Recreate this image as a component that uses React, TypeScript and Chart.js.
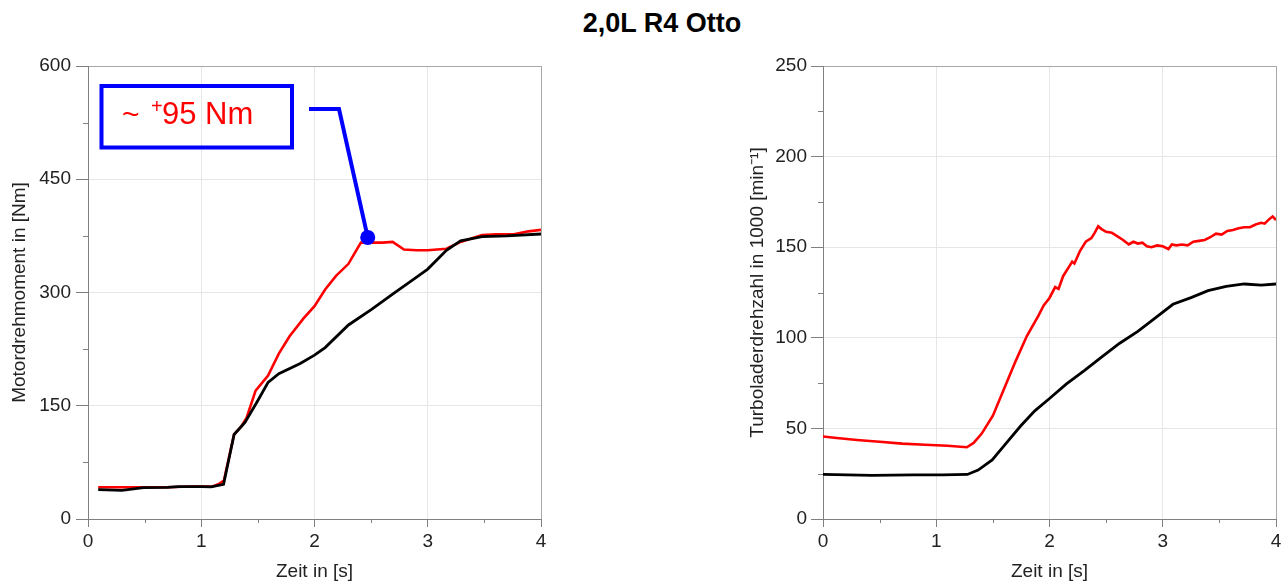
import React, { useEffect, useRef } from "react";
import { Chart, registerables } from "chart.js";

Chart.register(...registerables);

const TITLE = "2,0L R4 Otto";
const X_TITLE = "Zeit in [s]";
const TORQUE_TITLE = "Motordrehmoment in [Nm]";
const TURBO_TITLE = "Turboladerdrehzahl in 1000 [min\u207B\u00B9]";
const ANNOTATION_TEXT = "95 Nm";

const X_MINOR = [0.5, 1.5, 2.5, 3.5];
const TORQUE_MINOR = [75, 225, 375, 525];
const TURBO_MINOR = [25, 75, 125, 175, 225];

// annotation point (data coordinates)
const ANNO_T = 2.47;
const ANNO_V = 373;

// Left: Motordrehmoment
const torqueRedT = [0.09, 0.3, 0.5, 0.7, 0.9, 1.1, 1.15, 1.2, 1.29, 1.35, 1.4, 1.48, 1.59, 1.685, 1.78, 1.905, 2.0, 2.094, 2.19, 2.3, 2.378, 2.41, 2.5, 2.6, 2.69, 2.79, 2.9, 3.0, 3.165, 3.29, 3.48, 3.6, 3.76, 3.89, 4.0];
const torqueRedV = [42, 42, 42, 42, 43, 43, 46, 51, 112, 122, 134, 170, 190, 219, 242, 266, 282, 304, 322, 338, 358, 366, 366, 366, 367, 357, 356, 356, 358, 367, 376, 377, 377, 381, 383];
const torqueBlackT = [0.09, 0.3, 0.49, 0.7, 0.8, 1.0, 1.087, 1.197, 1.29, 1.386, 1.5, 1.59, 1.685, 1.874, 2.0, 2.094, 2.3, 2.504, 2.69, 2.88, 3.0, 3.165, 3.29, 3.48, 3.7, 4.0];
const torqueBlackV = [39, 38, 41.6, 42, 43, 43, 42.5, 46, 112, 128, 157, 181, 192.5, 206, 217, 227, 257, 277.6, 298, 318, 331, 356, 368.5, 374, 375, 377.5];

// Right: Turboladerdrehzahl
const turboRedT = [0, 0.1, 0.3, 0.5, 0.7, 0.9, 1.1, 1.27, 1.33, 1.4, 1.5, 1.6, 1.7, 1.8, 1.9, 1.95, 2.0, 2.05, 2.08, 2.12, 2.18, 2.2, 2.22, 2.27, 2.32, 2.37, 2.4, 2.43, 2.46, 2.5, 2.55, 2.6, 2.65, 2.7, 2.74, 2.78, 2.82, 2.86, 2.9, 2.95, 3.0, 3.05, 3.08, 3.12, 3.17, 3.22, 3.27, 3.32, 3.37, 3.42, 3.47, 3.52, 3.57, 3.62, 3.67, 3.72, 3.77, 3.82, 3.87, 3.9, 3.94, 3.97, 4.0];
const turboRedV = [45.5, 44.8, 43.6, 42.6, 41.6, 41.0, 40.4, 39.6, 42, 47, 57, 72, 87, 101, 112, 118, 122, 128, 127, 134, 140, 142, 141, 148, 153, 155, 158, 161.5, 160, 158.5, 158, 156, 154, 151.5, 153, 152, 152.5, 150.5, 150, 151, 150.5, 149, 151.5, 151, 151.5, 151, 153, 153.5, 154, 155.5, 157.5, 157, 159, 159.5, 160.5, 161, 161, 162.5, 163.5, 163, 165.5, 167, 165];
const turboBlackT = [0, 0.43, 0.8, 1.056, 1.275, 1.37, 1.494, 1.62, 1.745, 1.87, 1.995, 2.15, 2.31, 2.465, 2.62, 2.78, 2.935, 3.09, 3.25, 3.4, 3.56, 3.72, 3.87, 4.0];
const turboBlackV = [24.6, 24.1, 24.3, 24.3, 24.6, 27, 32.6, 42, 51.3, 59.7, 66.2, 74.6, 82, 89.6, 97, 103.5, 111, 118.5, 122.2, 126, 128.4, 129.7, 129.1, 129.7];

const FONT = "Arial, 'Liberation Sans', Helvetica, sans-serif";
const AXIS_COLOR = "#808080";

const toPoints = (ts: number[], vs: number[]) => ts.map((t, i) => ({ x: t, y: vs[i] }));

const minorTicksPlugin = {
  id: "minorTicks",
  afterDraw(chart: any, _args: any, opts: any) {
    const { ctx, scales, chartArea } = chart;
    ctx.save();
    ctx.strokeStyle = AXIS_COLOR;
    ctx.lineWidth = 1;
    ctx.beginPath();
    for (const v of opts.x || []) {
      const px = Math.round(scales.x.getPixelForValue(v)) + 0.5;
      ctx.moveTo(px, chartArea.bottom);
      ctx.lineTo(px, chartArea.bottom + 4);
    }
    for (const v of opts.y || []) {
      const py = Math.round(scales.y.getPixelForValue(v)) + 0.5;
      ctx.moveTo(chartArea.left - 5, py);
      ctx.lineTo(chartArea.left, py);
    }
    ctx.stroke();
    ctx.restore();
  },
};

const annotationPlugin = {
  id: "anno",
  afterDatasetsDraw(chart: any) {
    const { ctx, scales } = chart;
    const px = scales.x.getPixelForValue(ANNO_T);
    const py = scales.y.getPixelForValue(ANNO_V);
    ctx.save();
    ctx.strokeStyle = "#0000ff";
    ctx.lineWidth = 4;
    ctx.strokeRect(101.5, 86, 190.5, 61.5);
    ctx.beginPath();
    ctx.moveTo(309, 109);
    ctx.lineTo(339, 109);
    ctx.lineTo(px, py);
    ctx.stroke();
    ctx.fillStyle = "#0000ff";
    ctx.beginPath();
    ctx.arc(px, py, 7.5, 0, Math.PI * 2);
    ctx.fill();
    ctx.fillStyle = "#ff0000";
    ctx.textBaseline = "alphabetic";
    ctx.textAlign = "left";
    ctx.font = `30px ${FONT}`;
    ctx.fillText("~", 122, 124);
    ctx.font = `20px ${FONT}`;
    ctx.fillText("+", 151, 113);
    ctx.font = `31px ${FONT}`;
    ctx.fillText(ANNOTATION_TEXT, 162, 124);
    ctx.restore();
  },
};

function makeConfig(p: {
  yMax: number;
  yStep: number;
  yTitle: string;
  yTitlePad: number;
  yAxisWidth: number;
  yTickPad: number;
  padding: any;
  red: { x: number; y: number }[];
  black: { x: number; y: number }[];
  yMinor: number[];
  plugins: any[];
}): any {
  const gridColor = (max: number) => (ctx: any) => {
    const v = ctx.tick?.value;
    if (v === 0) return "rgba(0,0,0,0)";
    if (v === max) return "#a8a8a8";
    return "#e6e6e6";
  };
  return {
    type: "line",
    data: {
      datasets: [
        {
          data: p.black,
          borderColor: "#000000",
          borderWidth: 2.8,
          pointRadius: 0,
          tension: 0,
          fill: false,
        },
        {
          data: p.red,
          borderColor: "#ff0000",
          borderWidth: 2.6,
          pointRadius: 0,
          tension: 0,
          fill: false,
        },
      ],
    },
    options: {
      animation: false,
      responsive: false,
      parsing: false,
      layout: { padding: p.padding },
      plugins: {
        legend: { display: false },
        tooltip: { enabled: false },
        title: { display: false },
        minorTicks: { x: X_MINOR, y: p.yMinor },
      },
      scales: {
        x: {
          type: "linear",
          min: 0,
          max: 4,
          afterFit: (s: any) => {
            s.height = 62;
          },
          ticks: {
            stepSize: 1,
            color: "#222",
            padding: 3,
            font: { family: FONT, size: 19 },
          },
          grid: {
            color: gridColor(4),
            lineWidth: 1,
            drawTicks: true,
            tickLength: 8,
            tickColor: AXIS_COLOR,
          },
          border: { display: true, color: AXIS_COLOR, width: 1 },
          title: {
            display: true,
            text: X_TITLE,
            color: "#222",
            font: { family: FONT, size: 19 },
            padding: { top: 0, bottom: -2 },
          },
        },
        y: {
          type: "linear",
          min: 0,
          max: p.yMax,
          afterFit: (s: any) => {
            s.width = p.yAxisWidth;
          },
          ticks: {
            stepSize: p.yStep,
            color: "#222",
            padding: p.yTickPad,
            font: { family: FONT, size: 19 },
          },
          grid: {
            color: gridColor(p.yMax),
            lineWidth: 1,
            drawTicks: true,
            tickLength: 12,
            tickColor: AXIS_COLOR,
          },
          border: { display: true, color: AXIS_COLOR, width: 1 },
          title: {
            display: true,
            text: p.yTitle,
            color: "#222",
            font: { family: FONT, size: 19 },
            padding: { top: p.yTitlePad, bottom: 0 },
          },
        },
      },
    },
    plugins: p.plugins,
  };
}

function Panel({ left, width, config }: { left: number; width: number; config: any }) {
  const ref = useRef<HTMLCanvasElement>(null);
  useEffect(() => {
    const chart = new Chart(ref.current as HTMLCanvasElement, config);
    return () => chart.destroy();
  }, []);
  return (
    <canvas
      ref={ref}
      width={width}
      height={581}
      style={{ position: "absolute", left, top: 0, width, height: 581, display: "block" }}
    />
  );
}

export default function App() {
  const leftConfig = makeConfig({
    yMax: 600,
    yStep: 150,
    yTitle: TORQUE_TITLE,
    yTitlePad: 8,
    yAxisWidth: 88,
    yTickPad: 5,
    padding: { left: 0, top: 66, right: 19, bottom: 0 },
    red: toPoints(torqueRedT, torqueRedV),
    black: toPoints(torqueBlackT, torqueBlackV),
    yMinor: TORQUE_MINOR,
    plugins: [minorTicksPlugin, annotationPlugin],
  });
  const rightConfig = makeConfig({
    yMax: 250,
    yStep: 50,
    yTitle: TURBO_TITLE,
    yTitlePad: 0,
    yAxisWidth: 77,
    yTickPad: 4,
    padding: { left: 46, top: 66, right: 10, bottom: 0 },
    red: toPoints(turboRedT, turboRedV),
    black: toPoints(turboBlackT, turboBlackV),
    yMinor: TURBO_MINOR,
    plugins: [minorTicksPlugin],
  });
  return (
    <div
      style={{
        position: "absolute",
        left: 0,
        top: 0,
        width: 1286,
        height: 581,
        background: "#ffffff",
        overflow: "hidden",
      }}
    >
      <div
        style={{
          position: "absolute",
          left: 662,
          top: 10,
          transform: "translateX(-50%)",
          whiteSpace: "nowrap",
          fontFamily: FONT,
          fontWeight: "bold",
          fontSize: 27,
          lineHeight: "26px",
          color: "#000",
        }}
      >
        {TITLE}
      </div>
      <Panel left={0} width={560} config={leftConfig} />
      <Panel left={700} width={586} config={rightConfig} />
    </div>
  );
}
